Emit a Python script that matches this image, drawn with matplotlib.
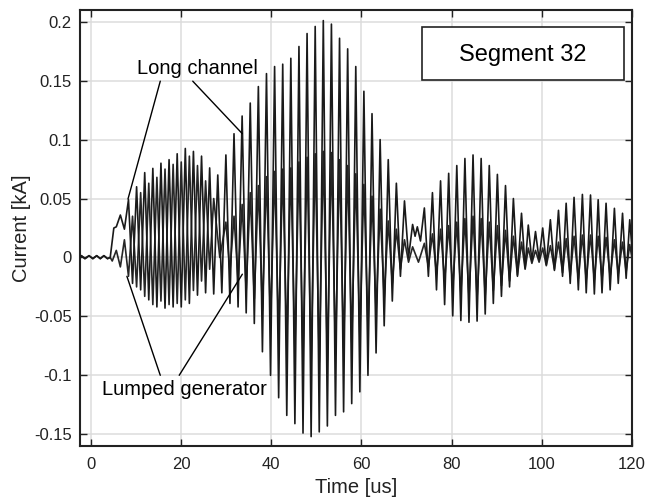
import numpy as np
import matplotlib
matplotlib.use("Agg")
import matplotlib.pyplot as plt
from matplotlib.patches import Rectangle

plt.rcParams['font.family'] = ['Liberation Sans', 'DejaVu Sans']

# ---------------- data ----------------
# common pre-onset ripple (both signals overlap)
ripple_t = [-2.6, -2.1, -1.3, -0.4, 0.45, 1.3, 2.1, 2.9, 3.7, 4.3]
ripple_v = [0.0, 0.0015, -0.001, 0.0015, -0.001, 0.0015, -0.001, 0.0015, -0.001, 0.0]

# Long channel
lc_onset_t = [5.1]
lc_onset_v = [0.025]
lc_peak_t = [6.55, 8.35, 10.15, 11.95, 13.75, 15.55, 17.35, 19.15, 20.95, 22.75,
             24.55, 26.35, 28.15, 29.95, 31.75, 33.55, 35.35, 37.15, 38.95, 40.75,
             42.55, 44.35, 46.15, 47.95, 49.75, 51.55, 53.35, 55.15, 56.95, 58.75,
             60.55, 62.35, 64.15, 65.95, 67.75, 69.55, 71.35, 72.4,
             73.96, 75.75, 77.55, 79.35, 81.15, 82.95, 84.75, 86.55, 88.35, 90.15,
             91.95, 93.7, 95.5,
             97.0, 98.6, 100.2, 101.9, 103.7, 105.4, 107.15, 109.0, 110.8, 112.5,
             114.25, 116.1, 117.9, 119.5]
lc_peak_v = [0.036, 0.049, 0.060, 0.072, 0.0756, 0.080, 0.083, 0.088, 0.0925, 0.090,
             0.086, 0.076, 0.070, 0.087, 0.105, 0.120, 0.131, 0.145, 0.156, 0.162,
             0.164, 0.169, 0.179, 0.190, 0.196, 0.201, 0.198, 0.186, 0.177, 0.162,
             0.141, 0.122, 0.100, 0.083, 0.063, 0.048, 0.028, 0.026,
             0.042, 0.055, 0.065, 0.0714, 0.078, 0.084, 0.087, 0.084, 0.078, 0.0705,
             0.061, 0.050, 0.0375,
             0.0275, 0.022, 0.025, 0.032, 0.040, 0.046, 0.051, 0.0535, 0.053, 0.049,
             0.046, 0.0417, 0.0375, 0.032]
lc_trough_t = [5.65, 7.45, 9.25, 11.05, 12.85, 14.65, 16.45, 18.25, 20.05, 21.85,
               23.65, 25.45, 27.25, 29.05, 30.85, 32.65, 34.45, 36.25, 38.05, 39.85,
               41.65, 43.45, 45.25, 47.05, 48.85, 50.65, 52.45, 54.25, 56.05, 57.85,
               59.65, 61.45, 63.25, 65.05, 66.85, 68.65, 70.45, 71.9, 73.1,
               74.85, 76.65, 78.45, 80.25, 82.05, 83.85, 85.65, 87.45, 89.25, 91.05,
               92.85, 94.6, 96.3,
               97.8, 99.4, 101.0, 102.8, 104.6, 106.3, 108.1, 109.85, 111.65, 113.35,
               115.15, 116.95, 118.7, 120.4]
lc_trough_v = [0.026, 0.024, -0.022, -0.0275, -0.036, -0.042, -0.043, -0.042, -0.042, -0.039,
               -0.032, -0.030, -0.031, -0.030, -0.039, -0.042, -0.047, -0.056, -0.080, -0.100,
               -0.119, -0.134, -0.141, -0.149, -0.152, -0.148, -0.143, -0.134, -0.131, -0.124,
               -0.114, -0.100, -0.081, -0.058, -0.037, -0.016, 0.0, 0.018, 0.014,
               -0.016, -0.0275, -0.040, -0.0496, -0.0535, -0.055, -0.054, -0.048, -0.039, -0.033,
               -0.025, -0.016, -0.009,
               -0.003, -0.002, -0.006, -0.011, -0.016, -0.022, -0.0275, -0.030, -0.031, -0.030,
               -0.0275, -0.022, -0.0177, -0.012]

# Lumped generator
lg_peak_t = [5.65, 7.45, 9.25, 11.05, 12.85, 14.65, 16.45, 18.25, 20.05, 21.85,
             23.65, 25.45, 27.25,
             29.95, 31.75, 33.55, 35.35, 37.15, 38.95, 40.75, 42.55, 44.35, 46.15,
             47.95, 49.75, 51.55, 53.35, 55.15, 56.95, 58.75, 60.55, 62.35, 64.15,
             65.95, 67.75, 69.55, 71.35,
             73.96, 75.75, 77.55, 79.35, 81.15, 82.95, 84.75, 86.55, 88.35, 90.15,
             91.95, 93.7, 95.5,
             97.0, 98.6, 100.2, 101.9, 103.7, 105.4, 107.15, 109.0, 110.8, 112.5,
             114.25, 116.1, 117.9, 119.5]
lg_peak_v = [0.006, 0.015, 0.035, 0.055, 0.063, 0.068, 0.075, 0.079, 0.081, 0.086,
             0.078, 0.065, 0.050,
             0.030, 0.035, 0.045, 0.055, 0.061, 0.0686, 0.073, 0.075, 0.076, 0.081,
             0.085, 0.088, 0.090, 0.089, 0.083, 0.078, 0.071, 0.062, 0.052, 0.041,
             0.031, 0.024, 0.015, 0.009,
             0.012, 0.020, 0.024, 0.027, 0.030, 0.033, 0.035, 0.033, 0.030, 0.027,
             0.023, 0.018, 0.013,
             0.008, 0.006, 0.008, 0.010, 0.013, 0.016, 0.018, 0.019, 0.019, 0.018,
             0.017, 0.015, 0.013, 0.011]
lg_trough_t = [4.75, 6.55, 8.35, 10.15, 11.95, 13.75, 15.55, 17.35, 19.15, 20.95,
               22.75, 24.55, 26.35, 28.6,
               30.85, 32.65, 34.45, 36.25, 38.05, 39.85, 41.65, 43.45, 45.25, 47.05,
               48.85, 50.65, 52.45, 54.25, 56.05, 57.85, 59.65, 61.45, 63.25, 65.05,
               66.85, 68.65, 70.45, 72.65,
               74.85, 76.65, 78.45, 80.25, 82.05, 83.85, 85.65, 87.45, 89.25, 91.05,
               92.85, 94.6, 96.3,
               97.8, 99.4, 101.0, 102.8, 104.6, 106.3, 108.1, 109.85, 111.65, 113.35,
               115.15, 116.95, 118.7, 120.4]
lg_trough_v = [-0.003, -0.008, -0.016, -0.025, -0.033, -0.040, -0.037, -0.040, -0.039, -0.036,
               -0.028, -0.020, -0.010, 0.0,
               -0.012, -0.020, -0.028, -0.035, -0.045, -0.055, -0.065, -0.072, -0.078, -0.085,
               -0.089, -0.089, -0.087, -0.082, -0.077, -0.072, -0.066, -0.058, -0.046, -0.034,
               -0.022, -0.010, -0.004, -0.004,
               -0.008, -0.014, -0.020, -0.026, -0.030, -0.033, -0.034, -0.032, -0.028, -0.024,
               -0.020, -0.015, -0.010,
               -0.005, -0.004, -0.007, -0.010, -0.013, -0.016, -0.018, -0.019, -0.019, -0.018,
               -0.016, -0.014, -0.012, -0.010]

x_ticks = [0, 20, 40, 60, 80, 100, 120]
y_ticks = [-0.15, -0.1, -0.05, 0, 0.05, 0.1, 0.15, 0.2]
y_tick_labels = ['-0.15', '-0.1', '-0.05', '0', '0.05', '0.1', '0.15', '0.2']


def series(*parts):
    t = np.concatenate([np.asarray(p[0], float) for p in parts])
    v = np.concatenate([np.asarray(p[1], float) for p in parts])
    order = np.argsort(t, kind='stable')
    return t[order], v[order]


lc_t, lc_v = series((ripple_t, ripple_v), (lc_onset_t, lc_onset_v),
                    (lc_peak_t, lc_peak_v), (lc_trough_t, lc_trough_v))
lg_t, lg_v = series((ripple_t, ripple_v),
                    (lg_peak_t, lg_peak_v), (lg_trough_t, lg_trough_v))

# ---------------- figure ----------------
fig = plt.figure(figsize=(6.46, 4.99), dpi=100)
ax = fig.add_axes([80 / 646, 53 / 499, 552 / 646, 436 / 499])

ax.plot(lg_t, lg_v, color='#262626', lw=1.2, zorder=3, solid_joinstyle='round')
ax.plot(lc_t, lc_v, color='#1a1a1a', lw=1.2, zorder=4, solid_joinstyle='round')

ax.set_xlim(-2.4, 120)
ax.set_ylim(-0.16, 0.21)
ax.set_xticks(x_ticks)
ax.set_xticklabels([str(x) for x in x_ticks])
ax.set_yticks(y_ticks)
ax.set_yticklabels(y_tick_labels)

ax.grid(True, color='#dcdcdc', lw=1.1)
ax.set_axisbelow(True)
for s in ax.spines.values():
    s.set_linewidth(1.5)
    s.set_color('#222222')
ax.tick_params(direction='in', length=5, width=1.0, top=True, right=True,
               labelsize=12, colors='#222222')
ax.tick_params(axis='x', pad=8)
ax.tick_params(axis='y', pad=6)

ax.set_xlabel('Time [us]', fontsize=14.5, color='#222222', labelpad=4)
ax.set_ylabel('Current [kA]', fontsize=14.5, color='#222222', labelpad=2)

# annotations
ax.text(23.6, 0.156, 'Long channel', fontsize=14.5, ha='center', va='baseline', zorder=6)
ax.annotate('', xy=(8.24, 0.0496), xytext=(15.4, 0.1496),
            arrowprops=dict(arrowstyle='-', lw=1.0, color='black', shrinkA=0, shrinkB=0), zorder=6)
ax.annotate('', xy=(33.6, 0.105), xytext=(22.6, 0.1496),
            arrowprops=dict(arrowstyle='-', lw=1.0, color='black', shrinkA=0, shrinkB=0), zorder=6)

ax.text(20.8, -0.1165, 'Lumped generator', fontsize=14.5, ha='center', va='baseline', zorder=6)
ax.annotate('', xy=(8.0, -0.016), xytext=(15.4, -0.100),
            arrowprops=dict(arrowstyle='-', lw=1.0, color='black', shrinkA=0, shrinkB=0), zorder=6)
ax.annotate('', xy=(33.6, -0.0142), xytext=(19.6, -0.100),
            arrowprops=dict(arrowstyle='-', lw=1.0, color='black', shrinkA=0, shrinkB=0), zorder=6)

# Segment box
ax.add_patch(Rectangle((0.6196, 0.8394), 0.3659, 0.1216, transform=ax.transAxes,
                       facecolor='white', edgecolor='#222222', lw=1.2, zorder=7))
ax.text(0.8025, 0.896, 'Segment 32', transform=ax.transAxes, fontsize=17,
        ha='center', va='center', zorder=8)

fig.savefig('out.png', dpi=100)
